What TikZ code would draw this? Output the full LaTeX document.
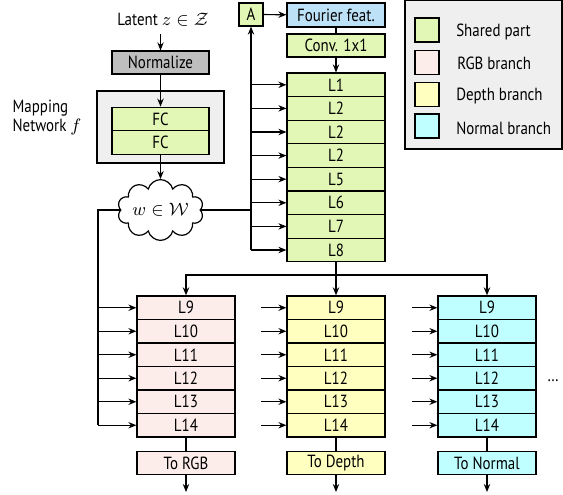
\documentclass[tikz,border=0pt]{standalone}
\usepackage{fontspec}
\setmainfont{PT Sans}[FakeStretch=0.85]
\usetikzlibrary{arrows.meta,shapes.symbols}
\definecolor{sharedc}{RGB}{226,247,181}
\definecolor{rgbc}{RGB}{252,236,234}
\definecolor{depthc}{RGB}{255,255,192}
\definecolor{normc}{RGB}{192,255,255}
\definecolor{fourc}{RGB}{189,225,247}
\definecolor{normgray}{RGB}{190,190,190}
\definecolor{bggray}{RGB}{239,239,239}
\begin{document}
\begin{tikzpicture}[x=0.5pt, y=-0.5pt, line width=0.6pt, >={Stealth[length=4pt,width=3.2pt]},
    every node/.style={font=\fontsize{8.8}{9.5}\selectfont},
    blk/.style={draw, minimum width=49pt, minimum height=11.8pt, inner sep=0pt},
    sw/.style={draw, minimum width=12pt, minimum height=12pt, inner sep=0pt}]
  \clip (0,0) rectangle (563,494);
  % legend
  \node [draw, fill=bggray, minimum width=78.5pt, minimum height=74.5pt, inner sep=0pt] (leg) at (483.5,74.5) {};
  \node [sw, fill=sharedc] (k1) at (427,30) {};
  \node [sw, fill=rgbc] (k2) at (427,62.5) {};
  \node [sw, fill=depthc] (k3) at (427,94.5) {};
  \node [sw, fill=normc] (k4) at (427,126) {};
  \node [anchor=west] (t1) at (449,32) {Shared part};
  \node [anchor=west] (t2) at (450,63) {RGB branch};
  \node [anchor=west] (t3) at (449,96) {Depth branch};
  \node [anchor=west] (t4) at (449,128) {Normal branch};
  % mapping network
  \node (z) at (163,20) {Latent $z\in\mathcal{Z}$};
  \node [blk, fill=normgray, minimum width=48.5pt, minimum height=11.5pt] (nm) at (160.5,62.5) {Normalize};
  \node [draw, fill=bggray, minimum width=63.5pt, minimum height=36pt, inner sep=0pt] (map) at (160.5,127) {};
  \node [blk, fill=sharedc, minimum width=48.5pt] (fc1) at (160.5,119) {FC};
  \node [blk, fill=sharedc, minimum width=48.5pt] (fc2) at (160.5,142.5) {FC};
  \node [anchor=west, align=left, inner sep=0pt] (mlab) at (12,118) {Mapping\\Network $f$};
  \node [draw, cloud, cloud puffs=10, aspect=1.8, minimum width=42.5pt, minimum height=25pt, inner sep=0pt] (w) at (160.5,210) {$w\in\mathcal{W}$};
  \draw [->] (nm.north |- z.south) -- (nm.north);
  \draw [->] (nm.south) -- (fc1.north);
  \draw [->] (fc2.south) -- (w.north);
  % shared part
  \node [blk, fill=sharedc, minimum width=12pt, minimum height=11.5pt] (a) at (251,14.5) {A};
  \node [blk, fill=fourc, minimum height=12pt] (ff) at (336,15) {Fourier feat.};
  \node [blk, fill=sharedc, minimum height=11.5pt] (cv) at (336,45.5) {Conv. 1x1};
  \draw [->] (a) -- (ff);
  \draw (ff) -- (cv);
  \foreach \t [count=\i] in {L1,L2,L2,L2,L5,L6,L7,L8} {
    \node [blk, fill=sharedc] (s\i) at (336,{61.2+23.6*\i}) {\t};
    \coordinate (v\i) at (251,{61.2+23.6*\i});
    \draw [->] (v\i) -- (s\i);
  }
  \draw [->] (cv) -- (s1);
  \draw [->] (v8) -- (a);
  \draw (w.east) -- (w.east -| v8);
  % branches
  \foreach \i in {1,...,6} {
    \pgfmathtruncatemacro\k{\i+8}
    \node [blk, fill=rgbc] (r\i) at (186,{284.25+23.5*\i}) {L\k};
    \node [blk, fill=depthc] (d\i) at (336,{284.25+23.5*\i}) {L\k};
    \node [blk, fill=normc] (n\i) at (487,{284.25+23.5*\i}) {L\k};
    \coordinate (u\i) at (98,{284.25+23.5*\i});
    \draw [->] (u\i) -- (r\i);
    \draw [->] ([xshift=-12.5pt]d\i.west) -- (d\i);
    \draw [->] ([xshift=-12.5pt]n\i.west) -- (n\i);
  }
  \draw (w.west) -| (u6);
  \coordinate (j) at (336,275);
  \draw (s8) -- (j);
  \draw [->] (j) -| (r1);
  \draw [->] (j) -| (n1);
  \draw [->] (j) -- (d1);
  \node [blk, fill=rgbc] (or) at (186,463) {To RGB};
  \node [blk, fill=depthc] (od) at (336,463) {To Depth};
  \node [blk, fill=normc] (on) at (487,463) {To Normal};
  \coordinate (er) at (186,492);
  \coordinate (ed) at (336,492);
  \coordinate (en) at (487,492);
  \draw (r6) -- (or);
  \draw (d6) -- (od);
  \draw (n6) -- (on);
  \draw [->] (or) -- (er);
  \draw [->] (od) -- (ed);
  \draw [->] (on) -- (en);
  \node (dd) at (553,381) {\dots};
\end{tikzpicture}
\end{document}
